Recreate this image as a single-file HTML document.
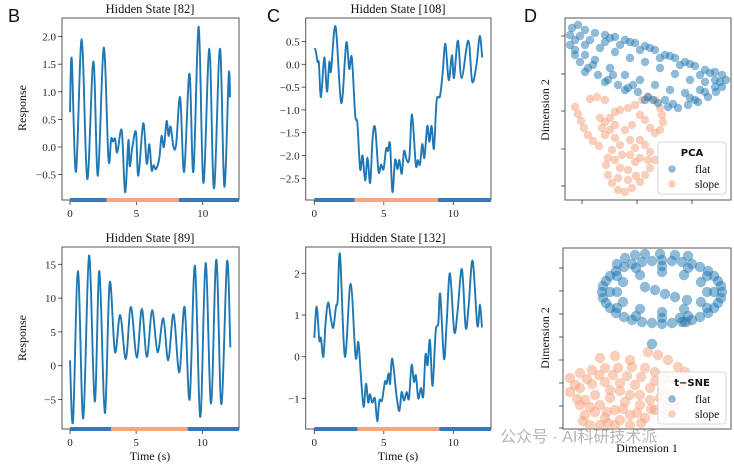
<!DOCTYPE html>
<html><head><meta charset="utf-8">
<style>
html,body{margin:0;padding:0;background:#fff;}
svg{display:block;font-family:"Liberation Serif",serif;}
.tk{font-size:11px;fill:#222;}
.ttl{font-size:12.5px;fill:#111;}
.lab{font-size:12px;fill:#111;}
.pl{font-family:"Liberation Sans",sans-serif;font-size:18px;fill:#111;}
</style></head>
<body>
<svg id="fig" width="734" height="464" viewBox="0 0 734 464">
<text class="pl" x="8" y="22">B</text>
<text class="pl" x="267" y="22">C</text>
<text class="pl" x="524" y="22">D</text>
<text class="ttl" x="150" y="13" text-anchor="middle">Hidden State [82]</text>
<text class="ttl" x="398" y="13" text-anchor="middle">Hidden State [108]</text>
<text class="ttl" x="150" y="242" text-anchor="middle">Hidden State [89]</text>
<text class="ttl" x="398" y="242" text-anchor="middle">Hidden State [132]</text>
<text class="lab" transform="translate(26,108) rotate(-90)" text-anchor="middle">Response</text>
<text class="lab" transform="translate(26,338) rotate(-90)" text-anchor="middle">Response</text>
<text class="lab" x="150" y="460" text-anchor="middle">Time (s)</text>
<text class="lab" x="398" y="460" text-anchor="middle">Time (s)</text>
<text class="lab" transform="translate(549,110) rotate(-90)" text-anchor="middle">Dimension 2</text>
<text class="lab" transform="translate(549,338) rotate(-90)" text-anchor="middle">Dimension 2</text>
<text class="lab" x="647" y="452" text-anchor="middle">Dimension 1</text>
<text x="500" y="442" font-family="Liberation Sans, Noto Sans CJK SC, sans-serif" font-size="16" fill="#aaa" opacity="0.85">公众号 · AI科研技术派</text>
</svg>
<script>
// ---- data: time series (extrema times and values) ----
const b82_t=[0,0.13,0.45,0.88,1.3,1.76,2.1,2.54,2.9,3.1,3.25,3.4,3.56,3.9,4.15,4.4,4.5,4.7,4.97,5.15,5.52,5.78,5.98,6.15,6.3,6.48,6.73,6.9,7.08,7.28,7.43,7.58,7.8,8.0,8.3,8.6,9.0,9.3,9.7,10.05,10.5,10.85,11.3,11.63,11.96,12.06];
const b82_v=[0.63,1.6,-0.45,1.95,-0.58,1.55,-0.52,1.8,-0.22,0.15,0.1,0.15,-0.1,0.3,-0.82,0.12,-0.35,0.0,0.27,-0.52,0.43,-0.3,0.05,-0.42,-0.33,-0.4,-0.2,0.2,0.0,0.47,0.2,0.37,0.0,0.05,0.9,-0.45,1.33,-0.45,2.18,-0.65,1.78,-0.75,1.78,-0.72,1.3,0.9];
const c108_t=[0,0.1,0.24,0.33,0.48,0.72,0.91,1.08,1.2,1.53,1.94,2.3,2.51,2.7,2.94,3.1,3.3,3.47,3.66,3.83,4.02,4.2,4.38,4.62,4.8,4.98,5.17,5.3,5.45,5.62,5.81,5.98,6.12,6.29,6.46,6.65,6.84,7.03,7.3,7.45,7.6,7.77,7.92,8.13,8.28,8.44,8.61,8.8,9.04,9.23,9.43,9.67,9.9,10.05,10.33,10.6,11.08,11.36,11.67,11.9,12.08];
const c108_v=[0.35,0.3,0.05,0.02,-0.72,0.15,-0.6,0.05,-0.15,0.83,-0.85,0.47,-0.1,0.15,-1.1,-1.3,-2.3,-2.0,-2.55,-2.05,-2.6,-1.6,-1.4,-2.35,-2.2,-2.3,-1.85,-1.9,-1.75,-2.8,-2.1,-2.3,-2.1,-2.4,-1.9,-2.1,-2.05,-1.1,-2.2,-2.1,-2.2,-1.75,-2.05,-1.35,-1.7,-1.35,-1.85,-0.8,-0.7,-0.2,0.45,-0.35,0.2,-0.3,0.52,-0.3,0.52,-0.38,0.0,0.62,0.15];
const b89_t=[0,0.23,0.6,1.0,1.44,1.87,2.22,2.63,3.0,3.4,3.79,4.22,4.6,5.05,5.43,5.81,6.21,6.62,7.05,7.42,7.83,8.26,8.66,9.04,9.44,9.85,10.25,10.66,11.06,11.44,11.87,12.12];
const b89_v=[0.8,-8.2,14,-7.8,16.3,-5.3,14,-7,12.3,2,7.5,1,8.7,1.2,8.4,1.3,8.2,2,7,0.8,7.6,-1,8.7,-5,14.8,-7.6,15.2,-5.6,15.7,-5.7,15.4,2.7];
const c132_t=[0,0.17,0.36,0.48,0.65,0.82,1.0,1.2,1.37,1.56,1.68,1.85,2.2,2.61,2.97,3.17,3.36,3.55,3.72,3.88,4.0,4.17,4.36,4.53,4.68,4.87,5.08,5.2,5.35,5.45,5.61,5.92,6.12,6.28,6.45,6.64,6.81,7.0,7.17,7.31,7.48,7.67,7.84,8.0,8.15,8.32,8.51,8.73,8.92,9.06,9.33,9.52,9.76,10.07,10.31,10.62,10.89,11.1,11.39,11.73,11.92,12.06];
const c132_v=[0.45,1.2,0.4,0.45,0.0,0.85,1.3,0.9,0.7,1.2,1.35,2.45,0.0,1.75,0.0,0.35,-0.5,-1.2,-0.65,-1.1,-0.9,-1.1,-1.0,-1.55,-1.05,-1.05,-0.6,-0.65,-0.4,-0.65,-0.05,-0.95,-1.3,-0.85,-1.05,-0.85,-1.0,-0.2,-0.6,-0.45,-1.0,-0.75,-0.95,0.05,-0.2,0.4,-0.7,0.6,0.8,1.5,-0.05,0.8,2.0,0.6,1.1,2.1,0.7,1.2,2.3,0.75,1.25,0.7];
// condition segments (start, end, condition)
const b82_seg=[[0,2.76,'flat'],[2.76,8.2,'slope'],[8.2,13,'flat']];
const c108_seg=[[0,2.9,'flat'],[2.9,8.9,'slope'],[8.9,13,'flat']];
const b89_seg=[[0,3.1,'flat'],[3.1,8.9,'slope'],[8.9,13,'flat']];
const c132_seg=[[0,3.1,'flat'],[3.1,9.0,'slope'],[9.0,13,'flat']];
const xTicks=[0,5,10];
const b82_yt=[-0.5,0,0.5,1,1.5,2];
const c108_yt=[-2.5,-2,-1.5,-1,-0.5,0,0.5];
const b89_yt=[-5,0,5,10,15];
const c132_yt=[-1,0,1,2];
// ---- data: embeddings ----
const pcaFlatX=[7,13,20,30,40,50,60,70,80,90,100,110,120,130,140,150,157,161,10,25,40,55,75,95,115,135,150,5,15,5,10,15,23,33,43,53,63,73,83,93,103,113,123,133,143,151,157,20,40,60,80,100,125,140,20,35,50,65,80,95,110,125,140,135,120,105,90,75,60,45,30,20,45,65,85,105,125,145,28,48,68,88,108,130,150,10,155];
const pcaFlatY=[172,175,170,167,165,163,160,157,154,150,145,142,138,134,130,128,125,120,160,160,158,155,150,142,135,125,120,165,164,155,145,138,132,125,120,115,112,108,103,97,93,92,95,98,103,108,113,128,118,110,100,100,102,108,155,152,148,142,138,132,126,120,118,110,107,110,115,120,125,132,140,145,162,158,152,144,136,127,135,125,115,100,96,100,113,150,118];
const pcaSlopeX=[10,13,16,19,23,28,34,25,32,40,35,40,45,50,55,63,70,77,83,90,95,97,98,95,90,85,80,75,45,50,55,47,40,60,65,70,75,80,85,90,85,80,75,67,60,53,47,43,41,43,50,55,63,70,75,65,57,53,63,71,83,50,67,37];
const pcaSlopeY=[93,86,79,72,65,59,54,101,103,100,82,78,82,88,90,92,95,100,103,100,92,85,78,70,67,72,80,85,70,62,55,50,65,70,60,52,60,55,48,40,32,25,18,12,8,10,17,25,35,42,40,32,30,38,42,45,45,22,20,24,40,75,75,72];
const tsneFlatX=[159,155,145,129,109,89,69,53,43,39,43,53,69,89,109,129,145,155,158,151,137,119,99,79,61,47,40,40,47,61,79,99,119,137,151,158,144,138,121,99,77,60,54,60,77,99,121,138,151,144,125,99,73,54,47,54,73,99,125,144,54,62,72,82,97,112,125,82,92,102,112,124,117,122,89];
const tsneFlatY=[137,148,158,165,168,168,165,158,148,137,126,116,109,106,106,109,116,126,143,153,162,167,169,167,162,153,143,131,121,112,107,105,107,112,121,131,137,147,154,157,154,147,137,127,120,117,120,127,137,153,161,163,161,153,137,121,113,111,113,121,165,171,174,175,175,174,173,142,139,135,132,129,111,107,85];
const tsneSlopeX=[7,17,29,42,55,69,82,92,102,85,95,105,115,122,7,17,29,42,57,72,87,99,22,32,37,47,52,62,67,77,82,92,97,57,42,32,22,77,87,107,112,102,47,67,37,52,67,17,27,37,52,67,124,12,24,36,50,64,78,92,14,27,44,60,74,88,104,118,110,57,20,45,78];
const tsneSlopeY=[51,56,59,61,61,62,61,57,51,77,74,69,62,57,37,41,45,47,46,44,41,39,29,34,24,31,19,27,14,24,11,19,31,9,11,17,14,34,29,34,24,14,39,34,4,4,4,24,4,71,73,69,107,44,50,54,54,53,52,48,30,22,17,20,16,20,24,44,50,38,8,6,6];
</script>
<script>
const NS='http://www.w3.org/2000/svg';
const svg=document.getElementById('fig');
const BLUE='#1f77b4', SALMON='#f4a582', BARBLUE='#3a78b5';
function mk(tag,attrs,parent){const e=document.createElementNS(NS,tag);for(const k in attrs)e.setAttribute(k,attrs[k]);(parent||svg).appendChild(e);return e;}
function lin(d0,d1,r0,r1){return v=>r0+(v-d0)*(r1-r0)/(d1-d0);}
function fmt(v,dec){const s=v.toFixed(dec);return (v<0?'\u2212'+s.slice(1):s);}
function spline(pts){let d='M'+pts[0][0].toFixed(2)+','+pts[0][1].toFixed(2);
 for(let i=0;i<pts.length-1;i++){const p0=pts[i-1]||pts[i],p1=pts[i],p2=pts[i+1],p3=pts[i+2]||p2;
  const c1=[p1[0]+(p2[0]-p0[0])/6,p1[1]+(p2[1]-p0[1])/6],c2=[p2[0]-(p3[0]-p1[0])/6,p2[1]-(p3[1]-p1[1])/6];
  d+='C'+c1[0].toFixed(2)+','+c1[1].toFixed(2)+' '+c2[0].toFixed(2)+','+c2[1].toFixed(2)+' '+p2[0].toFixed(2)+','+p2[1].toFixed(2);}
 return d;}
function panel(id,box,xs,ys,ts,vs,segs,yt,dec){
 const g=mk('g',{});
 
 
 const fr=mk('rect',{x:box.x0,y:box.y0,width:box.x1-box.x0,height:box.y1-box.y0,fill:'none',stroke:'#555','stroke-width':1},g);
 
 
 yt.forEach(v=>{const y=ys(v);
  const tl=mk('line',{x1:box.x0-4,x2:box.x0,y1:y,y2:y,stroke:'#333','stroke-width':0.8},g);
  
  
  const t=mk('text',{x:box.x0-6,y:y+4,'text-anchor':'end',class:'tk'},g);t.textContent=fmt(v,dec);
  
  });
 xTicks.forEach(v=>{const x=xs(v);
  const tl=mk('line',{x1:x,x2:x,y1:box.y1,y2:box.y1+5,stroke:'#333','stroke-width':0.8},g);
  
  
  const t=mk('text',{x:x,y:box.y1+17,'text-anchor':'middle',class:'tk'},g);t.textContent=String(v);
  
  });
 segs.forEach(s=>{const a=Math.max(box.x0,xs(s[0])),b=Math.min(box.x1,xs(s[1]));
  const r=mk('rect',{x:a,y:box.y1-2,width:b-a,height:4,fill:s[2]==='flat'?BARBLUE:SALMON},g);
  
  });
 const pts=ts.map((t,i)=>[xs(t),ys(vs[i])]);
 const p=mk('path',{d:spline(pts),fill:'none',stroke:BLUE,'stroke-width':1.9,'stroke-linejoin':'round'},g);
 
 
}
panel('hidden-state-82',{x0:62,x1:239,y0:18,y1:200},lin(0,10,70,202.7),lin(0,2,147,36.6),b82_t,b82_v,b82_seg,b82_yt,1);
panel('hidden-state-108',{x0:305.7,x1:491,y0:18,y1:200},lin(0,10,314.3,453.3),lin(0,-2.5,64.3,178.3),c108_t,c108_v,c108_seg,c108_yt,1);
panel('hidden-state-89',{x0:62,x1:239,y0:247,y1:429},lin(0,10,70,202.3),lin(0,15,365.7,264.3),b89_t,b89_v,b89_seg,b89_yt,0);
panel('hidden-state-132',{x0:305.7,x1:491,y0:247,y1:429},lin(0,10,314.3,453.3),lin(0,2,356.7,273.3),c132_t,c132_v,c132_seg,c132_yt,0);

function scatterPanel(id,box,xs,ys,fx,fy,sx,sy,yTickPix,xTickPix,title,r){
 const g=mk('g',{});
 
 
 const fr=mk('rect',{x:box.x0,y:box.y0,width:box.x1-box.x0,height:box.y1-box.y0,fill:'none',stroke:'#555','stroke-width':1},g);
 
 
 yTickPix.forEach(y=>{const l=mk('line',{x1:box.x0-4,x2:box.x0,y1:y,y2:y,stroke:'#333','stroke-width':0.8},g);
  
  });
 xTickPix.forEach(x=>{const l=mk('line',{x1:x,x2:x,y1:box.y1,y2:box.y1+4,stroke:'#333','stroke-width':0.8},g);
  
  });
 sx.forEach((v,i)=>{const c=mk('circle',{cx:xs(v),cy:ys(sy[i]),r:r,fill:SALMON,'fill-opacity':0.55},g);
  
  });
 fx.forEach((v,i)=>{const c=mk('circle',{cx:xs(v),cy:ys(fy[i]),r:r,fill:BLUE,'fill-opacity':0.5},g);
  
  });
 const lx=658,ly=box.legY;
 const lg=mk('g',{},g);
 
 
 mk('rect',{x:lx,y:ly,width:68,height:52,rx:3,fill:'#fff','fill-opacity':0.85,stroke:'#ccc','stroke-width':0.8},lg);
 const tt=mk('text',{x:lx+34,y:ly+14,'text-anchor':'middle','font-family':'DejaVu Sans, sans-serif','font-weight':'bold','font-size':10,fill:'#111'},lg);tt.textContent=title;
 
 
 [['flat',BLUE,0.5],['slope',SALMON,0.55]].forEach((e,i)=>{const yy=ly+27+i*15;
  const c=mk('circle',{cx:lx+14,cy:yy,r:3.8,fill:e[1],'fill-opacity':e[2]},lg);
  
  
  const t=mk('text',{x:lx+37,y:yy+4,'font-size':11.5,fill:'#111'},lg);t.textContent=e[0];
  
  });
}
scatterPanel('pca',{x0:565,x1:731,y0:18,y1:200,legY:142},lin(0,166,565,731),lin(0,182,200,18),pcaFlatX,pcaFlatY,pcaSlopeX,pcaSlopeY,[36,74,111,149,186],[582,637,692],'PCA',4.2);
scatterPanel('tsne',{x0:563,x1:731,y0:248,y1:429,legY:372},lin(0,168,563,731),lin(0,181,429,248),tsneFlatX,tsneFlatY,tsneSlopeX,tsneSlopeY,[268,291,314,337,360,383,406,428],[],'t\u2212SNE',5.2);
</script>
</body></html>
